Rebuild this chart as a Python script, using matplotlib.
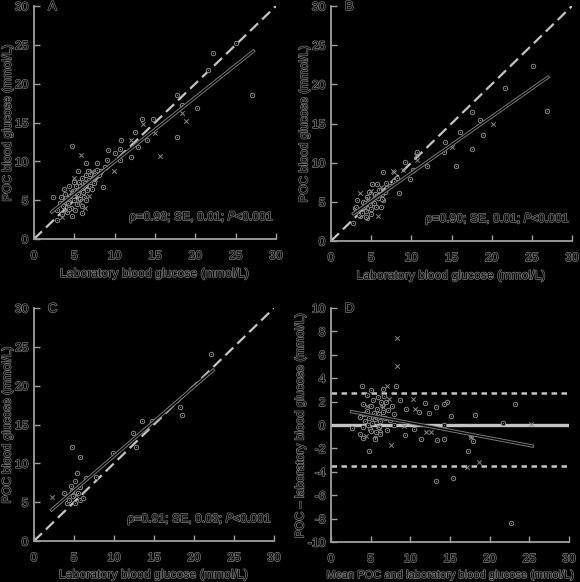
import numpy as np
import matplotlib
matplotlib.use("Agg")
import matplotlib.pyplot as plt
import matplotlib.patheffects as pe

plt.rcParams['font.family'] = ['Liberation Sans', 'DejaVu Sans']
plt.rcParams['axes.unicode_minus'] = False

# ---- dati ----
# pannello A (lab, POC)
a_circ_x = [4.75, 6.4, 7.8, 9.0, 9.2, 10.0, 10.8, 10.7, 12.5, 13.4, 14.7, 14.0, 12.9, 12.0, 10.7, 8.6,
            17.7, 17.7, 18.3, 20.2, 21.6, 22.2, 25.1, 27.0, 5.4, 7.6, 3.7, 2.4, 3.3, 3.9, 6.2, 2.9,
            4.1, 4.7, 6.0, 2.8, 6.6, 4.2, 4.5, 4.8, 5.0, 5.2, 5.5, 5.6, 5.8, 6.0, 6.3, 6.5, 6.8, 7.0,
            7.3, 3.6, 3.8, 4.3, 4.6, 5.3, 5.7, 6.1, 6.9, 7.5, 8.0, 8.3, 4.9, 5.1, 3.5, 4.4, 5.9, 6.4,
            7.2, 3.2, 4.0, 5.4, 6.7, 7.8, 8.8]
a_circ_y = [12.0, 9.8, 9.8, 10.2, 11.4, 11.1, 12.7, 11.6, 13.8, 15.4, 15.4, 12.7, 11.9, 10.6, 10.2, 6.7,
            13.2, 18.5, 17.2, 16.9, 21.8, 24.0, 25.2, 18.6, 8.8, 8.5, 6.5, 5.4, 5.4, 5.0, 5.4, 3.8,
            3.5, 3.0, 3.4, 2.4, 6.3, 4.6, 5.5, 6.2, 5.0, 6.8, 5.8, 7.4, 6.5, 7.8, 7.2, 8.2, 7.6, 8.4,
            7.9, 4.2, 5.8, 6.8, 4.0, 4.5, 5.2, 6.0, 6.8, 7.2, 8.3, 8.8, 7.3, 3.8, 3.2, 3.9, 4.3, 5.0,
            6.4, 4.7, 5.3, 6.3, 8.8, 8.9, 9.3]
a_cross_x = [5.8, 12.0, 13.5, 15.6, 18.4, 18.8, 15.0, 9.9, 7.2, 5.0, 3.5, 4.0, 5.2, 6.0, 4.6, 6.8,
             3.9, 7.6, 5.6, 4.3, 6.3, 6.6]
a_cross_y = [10.8, 12.8, 14.8, 10.7, 16.2, 15.2, 13.7, 8.8, 8.7, 7.9, 2.9, 4.4, 5.6, 6.9, 6.0, 5.6,
             3.8, 7.7, 4.9, 5.1, 4.0, 7.3]
a_fit_x = [2.2, 27.2]
a_fit_y = [3.5, 24.2]

# pannello B
b_circ_x = [25.1, 21.7, 26.9, 17.6, 18.6, 18.9, 17.6, 15.6, 16.0, 14.2, 14.1, 10.7, 9.2, 6.5, 9.8, 12.0,
            8.5, 5.1, 5.7, 3.2, 3.0, 3.6, 2.8, 4.5, 6.5, 10.2, 6.8, 3.1, 3.5, 4.4, 5.0, 6.2, 6.4, 4.1,
            4.0, 4.5, 4.8, 5.2, 5.5, 5.8, 6.0, 4.3, 5.0, 5.4, 4.7, 6.3, 7.0, 7.4, 3.8, 4.2, 5.6, 6.7,
            7.8, 8.2]
b_circ_y = [22.4, 19.5, 16.6, 16.5, 15.4, 13.5, 11.7, 9.6, 13.9, 12.6, 11.4, 11.4, 10.1, 8.8, 7.9, 9.6,
            6.1, 7.3, 7.3, 5.2, 4.2, 3.2, 2.3, 2.9, 5.2, 9.1, 7.4, 4.4, 3.3, 3.1, 3.5, 4.4, 5.3, 4.4,
            5.0, 5.6, 4.6, 5.0, 6.0, 5.5, 6.5, 3.8, 4.1, 4.8, 6.2, 6.0, 6.8, 7.0, 3.6, 4.8, 4.3, 6.2,
            7.6, 8.0]
b_cross_x = [20.2, 15.0, 10.6, 9.0, 7.8, 3.6, 5.9, 6.2, 10.7, 7.7, 4.6, 5.3, 4.2, 5.0]
b_cross_y = [15.0, 12.0, 11.0, 9.1, 8.8, 6.1, 3.2, 6.9, 10.3, 8.9, 5.3, 5.8, 4.2, 6.4]
b_fit_x = [2.8, 27.0]
b_fit_y = [3.5, 20.9]

# pannello C
c_circ_x = [22.1, 18.3, 18.5, 14.7, 13.5, 12.4, 12.8, 9.9, 4.75, 5.8, 5.4, 5.1, 5.75, 7.8, 6.5, 3.7,
            4.7, 4.9, 4.1, 5.1, 5.7, 4.6, 5.5, 6.1, 4.4]
c_circ_y = [24.1, 17.3, 16.2, 15.4, 15.5, 13.9, 12.1, 11.3, 12.1, 10.8, 8.8, 7.7, 7.0, 8.3, 8.1, 6.2,
            6.5, 5.8, 4.85, 4.85, 5.3, 7.1, 6.2, 5.6, 5.3]
c_cross_x = [2.3, 5.3]
c_cross_y = [5.7, 5.9]
c_fit_x = [2.2, 22.4]
c_fit_y = [4.0, 22.0]

# pannello D (media, differenza)
d_circ_x = [8.2, 3.9, 5.1, 4.6, 6.5, 6.7, 6.9, 8.7, 11.8, 14.6, 23.2, 9.5, 11.1, 12.4, 13.2, 14.2,
            15.1, 18.2, 21.7, 10.5, 9.3, 11.3, 13.3, 14.3, 14.2, 17.7, 17.9, 17.3, 13.2, 15.4, 22.7, 4.8,
            4.0, 5.5, 2.6, 6.2, 7.9, 4.9, 3.7, 4.0, 7.9, 4.0, 3.6, 5.6, 6.2, 4.3,
            4.5, 4.8, 5.0, 5.2, 5.4, 5.6, 5.8, 6.0, 6.2, 6.4, 6.6, 6.8, 7.2, 7.5, 5.0, 5.3, 5.9, 6.1,
            7.0, 4.7, 5.7, 7.7, 4.2, 6.3]
d_circ_y = [3.36, 3.36, 3.0, 2.6, 3.1, 2.5, 2.0, 2.1, 1.9, 2.0, 1.76, 1.4, 1.1, 1.0, 1.5, 1.8,
            0.8, 0.85, 0.2, -0.35, -0.85, -1.2, -1.3, -1.2, 0.0, -0.9, -1.4, -2.2, -4.8, -4.5, -8.35, -2.2,
            -1.1, -1.15, -0.25, -0.6, 0.0, -0.3, 0.7, 1.8, 0.9, -0.2, -0.8, -1.2, -0.75, 0.3,
            1.2, 0.6, 1.6, 0.2, 1.0, 0.5, 1.4, 0.9, 0.3, 1.7, 1.1, 0.6, 1.3, 0.4, -0.5, 2.1, 2.4, -0.2,
            -0.4, 0.0, -0.6, 1.6, 0.9, 2.0]
d_cross_x = [8.3, 8.3, 7.1, 10.3, 10.6, 25.2, 9.2, 12.0, 12.6, 18.6, 17.1, 7.6, 4.6, 4.4, 17.6, 6.5,
             5.4, 7.3, 5.9]
d_cross_y = [7.4, 5.0, 3.3, 2.2, 1.4, 0.1, -0.05, -0.6, -0.6, -3.15, -3.6, -1.7, 1.6, -0.95, -1.0, 1.5,
             0.7, 2.2, -0.1]
d_fit_x = [2.6, 25.4]
d_fit_y = [1.14, -1.8]
d_limits = [2.7, -3.5]

stats = ['ρ=0.98; SE, 0.01; $\\it{P}$<0.001',
         'ρ=0.90; SE, 0.01; $\\it{P}$<0.001',
         'ρ=0.91; SE, 0.03; $\\it{P}$<0.001']

# ---- stile ----
BG = 'black'
SPINE = '#a0a0a0'
LIGHT = '#c4c4c4'
MK = '#8a8a8a'
# testo nero con contorno grigio (come nell'originale)
TFX = [pe.withStroke(linewidth=1.0, foreground='#7c7c7c')]
FS = 8.8

fig = plt.figure(figsize=(5.8, 5.82), dpi=100, facecolor=BG)
pos = {'A': [0.0586, 0.5893, 0.4172, 0.4003],
       'B': [0.5707, 0.5859, 0.4155, 0.4038],
       'C': [0.0586, 0.0704, 0.4138, 0.4003],
       'D': [0.5707, 0.0687, 0.4103, 0.4021]}


def txt(t):
    t.set_color('black')
    t.set_path_effects(TFX)


def style(ax):
    ax.set_facecolor(BG)
    for s in ['top', 'right']:
        ax.spines[s].set_visible(False)
    for s in ['left', 'bottom']:
        ax.spines[s].set_color(SPINE)
        ax.spines[s].set_linewidth(1.3)
    ax.tick_params(direction='in', length=4, width=1, color=SPINE, labelsize=FS)
    ax.tick_params(axis='x', pad=8)
    ax.tick_params(axis='y', pad=4)
    ax.set_xlim(0, 30)
    ax.set_xticks(np.arange(0, 31, 5))


def finish(ax):
    for t in ax.get_xticklabels() + ax.get_yticklabels():
        txt(t)
    txt(ax.xaxis.label)
    txt(ax.yaxis.label)


def points(ax, cx, cy, xx, xy):
    ax.scatter(cx, cy, s=10, facecolor='black', edgecolor=MK, linewidths=0.7, zorder=3)
    ax.scatter(cx, cy, s=0.5, color=MK, linewidths=0, zorder=4)
    ax.scatter(xx, xy, s=10, marker='x', color=MK, linewidths=0.7, zorder=4)


def fitline(ax, fx, fy):
    ax.plot(fx, fy, color='black', lw=1.0, zorder=5,
            path_effects=[pe.Stroke(linewidth=2.4, foreground='#7a7a7a'), pe.Normal()])


def letter(ax, name):
    t = ax.text(0.058, 0.995, name, transform=ax.transAxes, ha='left', va='center', fontsize=9.5)
    txt(t)


scatter_panels = [('A', a_circ_x, a_circ_y, a_cross_x, a_cross_y, a_fit_x, a_fit_y, stats[0]),
                  ('B', b_circ_x, b_circ_y, b_cross_x, b_cross_y, b_fit_x, b_fit_y, stats[1]),
                  ('C', c_circ_x, c_circ_y, c_cross_x, c_cross_y, c_fit_x, c_fit_y, stats[2])]

label_x = {'A': -0.108, 'B': -0.11, 'C': -0.11}
label_y = {'A': -0.15, 'B': -0.149, 'C': -0.146}

for name, cx, cy, xx, xy, fx, fy, st in scatter_panels:
    ax = fig.add_axes(pos[name])
    style(ax)
    ax.set_ylim(0, 30)
    ax.set_yticks(np.arange(0, 31, 5))
    ax.plot([0, 30], [0, 30], color=LIGHT, lw=1.6, dashes=(5, 2.5), zorder=2)
    points(ax, cx, cy, xx, xy)
    fitline(ax, fx, fy)
    t = ax.text(29.8, 2.8, st, ha='right', va='center', fontsize=FS)
    txt(t)
    letter(ax, name)
    ax.set_xlabel('Laboratory blood glucose (mmol/L)', fontsize=FS, va='center')
    ax.set_ylabel('POC blood glucose (mmol/L)', fontsize=FS, va='center')
    ax.yaxis.set_label_coords(label_x[name], 0.5)
    ax.xaxis.set_label_coords(0.5, label_y[name])
    finish(ax)

# pannello D: Bland-Altman
ax = fig.add_axes(pos['D'])
style(ax)
ax.set_ylim(-10, 10)
ax.set_yticks(np.arange(-10, 11, 2))
ax.axhline(0, color=LIGHT, lw=2.4, zorder=2)
for lim in d_limits:
    ax.axhline(lim, color=LIGHT, lw=1.8, dashes=(2.2, 1.8), zorder=2)
points(ax, d_circ_x, d_circ_y, d_cross_x, d_cross_y)
fitline(ax, d_fit_x, d_fit_y)
letter(ax, 'D')
ax.set_xlabel('Mean POC and laboratory blood glucose (mmol/L)', fontsize=8.0, va='center')
ax.set_ylabel('POC – laboratory blood glucose (mmol/L)', fontsize=FS, va='center')
ax.yaxis.set_label_coords(-0.128, 0.5)
ax.xaxis.set_label_coords(0.505, -0.141)
finish(ax)

fig.savefig('out.png', dpi=100, facecolor=BG)
